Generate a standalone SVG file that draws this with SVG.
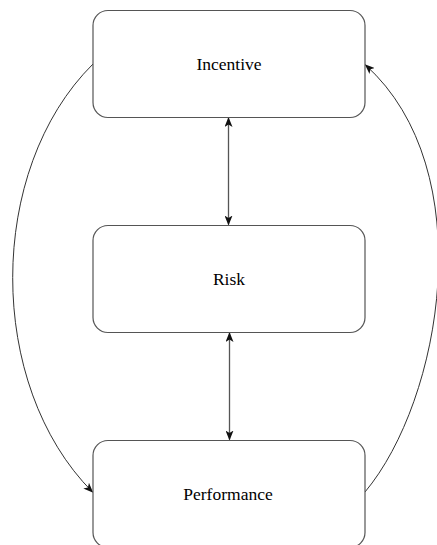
<svg xmlns="http://www.w3.org/2000/svg" width="437" height="545" viewBox="0 0 437 545">
  <style>
    .box { fill: #ffffff; stroke: #555555; stroke-width: 1.2; }
    .label { font-family: "Liberation Serif", "Times New Roman", serif; font-size: 17.5px; fill: #000000; text-anchor: middle; }
    .edge { fill: none; stroke: #333333; stroke-width: 1; }
    .axis { fill: none; stroke: #555555; stroke-width: 1.3; }
  </style>
  <defs>
    <marker id="arrowEnd" viewBox="0 0 10 8" refX="9" refY="4" markerWidth="10" markerHeight="8" markerUnits="userSpaceOnUse" orient="auto">
      <path d="M0,0 L10,4 L0,8 L2.5,4 Z" fill="#111111"/>
    </marker>
    <marker id="arrowStart" viewBox="0 0 10 8" refX="9" refY="4" markerWidth="10" markerHeight="8" markerUnits="userSpaceOnUse" orient="auto-start-reverse">
      <path d="M0,0 L10,4 L0,8 L2.5,4 Z" fill="#111111"/>
    </marker>
  </defs>

  <g id="connectors">
    <!-- Incentive <-> Risk -->
    <path class="axis" d="M228.5,118 L228.5,224.5" marker-start="url(#arrowStart)" marker-end="url(#arrowEnd)"/>
    <!-- Risk <-> Performance -->
    <path class="axis" d="M229.5,333 L229.5,439.5" marker-start="url(#arrowStart)" marker-end="url(#arrowEnd)"/>
    <!-- Incentive -> Performance (left arc) -->
    <path class="edge" d="M93,64 C-14,170 -14,385 92.5,492" marker-end="url(#arrowEnd)"/>
    <!-- Performance -> Incentive (right arc) -->
    <path class="edge" d="M365,492 C442,400 482,170 365.5,65" marker-end="url(#arrowEnd)"/>
  </g>

  <g id="incentive">
    <rect class="box" x="93" y="10.5" width="272" height="107" rx="15" ry="15"/>
    <text class="label" x="229" y="70" font-family="Liberation Serif, serif">Incentive</text>
  </g>

  <g id="risk">
    <rect class="box" x="93" y="225.5" width="272" height="107" rx="15" ry="15"/>
    <text class="label" x="229" y="285" font-family="Liberation Serif, serif">Risk</text>
  </g>

  <g id="performance">
    <rect class="box" x="93" y="440.5" width="272" height="107" rx="15" ry="15"/>
    <text class="label" x="228" y="500" font-family="Liberation Serif, serif">Performance</text>
  </g>
</svg>
